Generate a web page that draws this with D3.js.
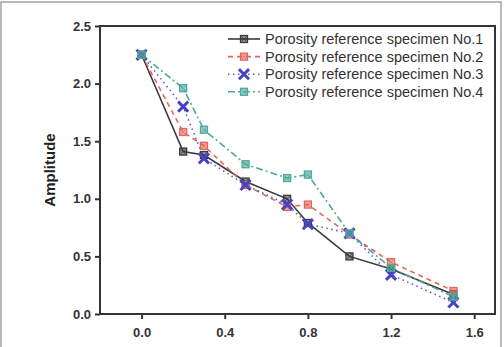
<!DOCTYPE html>
<html>
<head>
<meta charset="utf-8">
<script src="https://cdn.jsdelivr.net/npm/d3@7"></script>
<style>
  body { margin: 0; background: #fff; }
  svg text { font-family: "Liberation Sans", Arial, sans-serif; }
</style>
</head>
<body>
<div class="chart"></div>
<script>
// data
const xValues = [0, 0.2, 0.3, 0.5, 0.7, 0.8, 1.0, 1.2, 1.5];
const specimen1 = [2.25, 1.41, 1.38, 1.15, 1.0, 0.79, 0.50, 0.39, 0.17];
const specimen2 = [2.25, 1.58, 1.46, 1.12, 0.93, 0.95, 0.69, 0.45, 0.20];
const specimen3 = [2.25, 1.80, 1.35, 1.12, 0.95, 0.78, 0.70, 0.34, 0.10];
const specimen4 = [2.25, 1.96, 1.60, 1.30, 1.18, 1.21, 0.70, 0.40, 0.15];
const seriesNames = [
  "Porosity reference specimen No.1",
  "Porosity reference specimen No.2",
  "Porosity reference specimen No.3",
  "Porosity reference specimen No.4"
];
const xTicks = [0.0, 0.4, 0.8, 1.2, 1.6];
const yTicks = [0.0, 0.5, 1.0, 1.5, 2.0, 2.5];

const W = 504, H = 347;
const margin = { left: 100, right: 9, top: 26, bottom: 33 };
const width = W - margin.left - margin.right;
const height = H - margin.top - margin.bottom;

const styles = [
  { color: "#3a3a3a", dash: null, marker: "square" },
  { color: "#e4675c", dash: "5,4", marker: "square" },
  { color: "#5b5bd6", dash: "1.5,3.5", marker: "cross" },
  { color: "#4ea89c", dash: "7,3,2,3", marker: "square" }
];
const series = [specimen1, specimen2, specimen3, specimen4];

const svg0 = d3.select(".chart").append("svg")
  .attr("width", W).attr("height", H);

// thin frame around the whole figure
svg0.append("rect")
  .attr("x", 1).attr("y", 2).attr("width", 500).attr("height", 360)
  .attr("fill", "none").attr("stroke", "#8a8a8a").attr("stroke-width", 1.2);

const svg = svg0.append("g")
  .attr("transform", `translate(${margin.left},${margin.top})`);

const x = d3.scaleLinear().domain([-0.2, 1.7]).range([0, width]);
const y = d3.scaleLinear().domain([0, 2.5]).range([height, 0]);

// axes
const xAxis = svg.append("g")
  .attr("transform", `translate(0,${height})`)
  .call(d3.axisBottom(x).tickValues(xTicks).tickFormat(d3.format(".1f")).tickSize(5).tickPadding(9));
const yAxis = svg.append("g")
  .call(d3.axisLeft(y).tickValues(yTicks).tickFormat(d3.format(".1f")).tickSize(5).tickPadding(4));

[xAxis, yAxis].forEach((a) => {
  a.select(".domain").remove();
  a.selectAll("line").attr("stroke", "#333").attr("stroke-width", 2);
  a.selectAll("text")
    .attr("fill", "#333")
    .style("font-size", "13px")
    .style("font-weight", "bold");
});

// plot box
svg.append("rect")
  .attr("x", 0).attr("y", 0).attr("width", width).attr("height", height)
  .attr("fill", "none").attr("stroke", "#333").attr("stroke-width", 2);

// y label
svg.append("text")
  .attr("transform", `translate(-45,${height / 2}) rotate(-90)`)
  .attr("text-anchor", "middle")
  .attr("fill", "#222")
  .style("font-size", "15px")
  .style("font-weight", "bold")
  .text("Amplitude");

const line = d3.line()
  .x((d, i) => x(xValues[i]))
  .y((d) => y(d));

const drawMarker = (g, cx, cy, st) => {
  if (st.marker === "cross") {
    g.append("path")
      .attr("d", `M${cx - 4},${cy - 4}L${cx + 4},${cy + 4}M${cx + 4},${cy - 4}L${cx - 4},${cy + 4}`)
      .attr("stroke", "#4545c4").attr("stroke-width", 3).attr("stroke-linecap", "square");
  } else {
    g.append("rect")
      .attr("x", cx - 3.5).attr("y", cy - 3.5).attr("width", 7).attr("height", 7)
      .attr("fill", st.color).attr("fill-opacity", 0.55)
      .attr("stroke", st.color).attr("stroke-width", 1.3);
    g.append("path")
      .attr("d", `M${cx - 2.5},${cy - 2.5}L${cx + 2.5},${cy + 2.5}M${cx + 2.5},${cy - 2.5}L${cx - 2.5},${cy + 2.5}`)
      .attr("stroke", st.color).attr("stroke-width", 0.8);
  }
};

series.forEach((vals, k) => {
  const st = styles[k];
  svg.append("path")
    .datum(vals)
    .attr("fill", "none")
    .attr("stroke", st.color)
    .attr("stroke-width", 1.6)
    .attr("stroke-dasharray", st.dash)
    .attr("d", line);
});
series.forEach((vals, k) => {
  const g = svg.append("g");
  vals.forEach((v, i) => drawMarker(g, x(xValues[i]), y(v), styles[k]));
});

// legend
const legend = svg0.append("g").attr("transform", "translate(228,39)");
seriesNames.forEach((name, k) => {
  const st = styles[k];
  const row = legend.append("g").attr("transform", `translate(0,${k * 17.6})`);
  row.append("line")
    .attr("x1", 0).attr("x2", 32).attr("y1", 0).attr("y2", 0)
    .attr("stroke", st.color).attr("stroke-width", 1.6)
    .attr("stroke-dasharray", st.dash);
  drawMarker(row, 16, 0, st);
  row.append("text")
    .attr("x", 37).attr("y", 0).attr("dy", "0.35em")
    .attr("fill", "#333")
    .style("font-size", "14.5px")
    .text(name);
});
</script>
</body>
</html>
